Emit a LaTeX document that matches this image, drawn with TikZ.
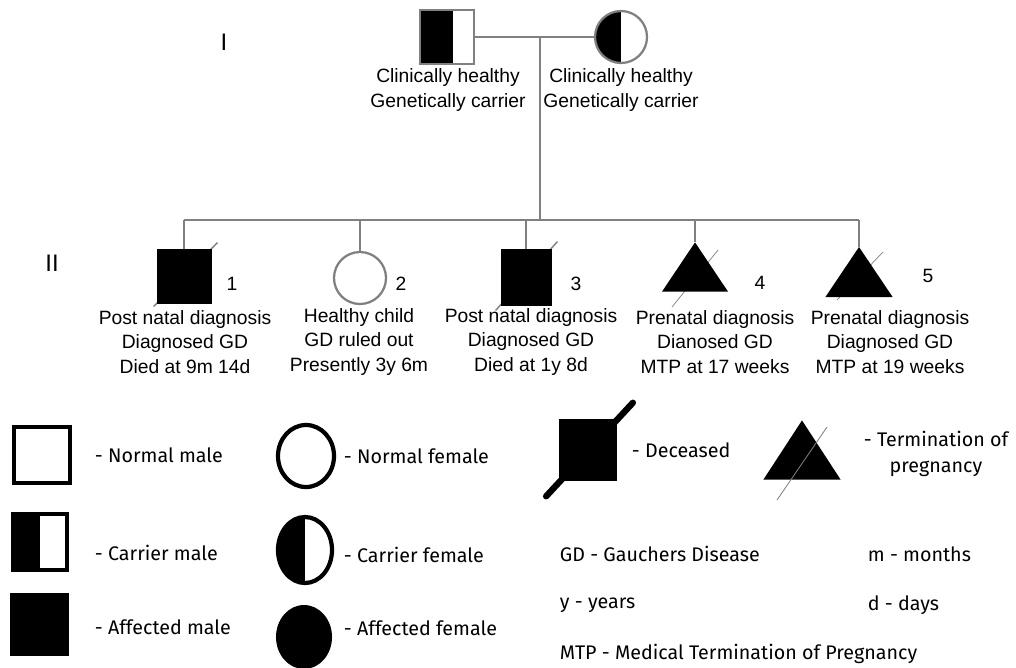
\documentclass[tikz,border=0pt]{standalone}
\usepackage{fontspec}
\setmainfont{Liberation Sans}
\newfontfamily\legfont{Fira Sans}
\usetikzlibrary{calc,shapes.geometric,backgrounds}

\begin{document}
\begin{tikzpicture}[x=0.025cm,y=-0.025cm,
  ped/.style={draw=gray,line width=2pt},
  msq/.style={rectangle,draw=gray,line width=1.6pt,inner sep=0pt,minimum width=1.35cm,minimum height=1.35cm},
  fcir/.style={circle,draw=gray,line width=1.6pt,inner sep=0pt,minimum size=1.3cm},
  half/.style={path picture={\fill[black] (path picture bounding box.south west) rectangle ($(path picture bounding box.north west)!#1!(path picture bounding box.north east)$);}},
  tri/.style={inner sep=0pt,path picture={\fill[black] (path picture bounding box.south west) -- (path picture bounding box.south east) -- (path picture bounding box.north) -- cycle;}},
  dead/.style={draw=gray,line width=1pt},
  txt/.style={align=center,font=\fontsize{13.7}{17.5}\selectfont},
  gen/.style={font=\fontsize{17}{20}\selectfont},
  leg/.style={anchor=west,font=\legfont\fontsize{14}{18}\selectfont},
  lsq/.style={rectangle,draw=black,line width=3pt,inner sep=0pt,minimum width=1.4cm,minimum height=1.4cm}]
\useasboundingbox (0,0) rectangle (1016,667);
\node[gen] (g1) at (224,42) {I};
\node[gen] (g2) at (52,263) {II};
\node[msq,half=0.62] (fa) at (447,37) {};
\node[fcir,half=0.5] (mo) at (621,37) {};
\node[txt] (fat) at (448,90) {Clinically healthy\\Genetically carrier};
\node[txt] (mot) at (621,90) {Clinically healthy\\Genetically carrier};
\draw[ped] (fa) -- (mo);
\coordinate (mid) at (540,37);
\coordinate (sib) at (540,220);
\draw[ped] (mid) -- (sib);
\node[msq,fill=black,draw=black,line width=0.6pt] (c1) at (184,276) {};
\node[fcir,fill=white] (c2) at (360,278) {};
\node[msq,fill=black,draw=black,line width=0.6pt,minimum width=1.25cm,minimum height=1.4cm] (c3) at (526,277) {};
\node[tri,minimum width=1.65cm,minimum height=1.23cm] (c4) at (695,267) {};
\node[tri,minimum width=1.68cm,minimum height=1.25cm] (c5) at (859,272) {};
\draw[ped] (c1.north |- sib) -- (c5.north |- sib);
\foreach \c in {c1,c2,c3,c4,c5}
  \draw[ped] (\c.north |- sib) -- (\c.north);
\begin{pgfonlayer}{background}
\draw[dead] ($(c1.south west)+(-3,3)$) -- ($(c1.north east)+(6,-6)$);
\draw[dead] ($(c3.south west)+(-5,5)$) -- ($(c3.north east)+(6,-7)$);
\draw[dead,line width=0.5pt] (672,307) -- (718,250);
\draw[dead,line width=0.5pt] (837,300) -- (883,252);
\end{pgfonlayer}
\node[txt] (n1) at (232,284) {1};
\node[txt] (n2) at (401,284) {2};
\node[txt] (n3) at (576,284) {3};
\node[txt] (n4) at (760,283) {4};
\node[txt] (n5) at (928,276) {5};
\node[txt] (t1) at (185,342) {Post natal diagnosis\\Diagnosed GD\\Died at 9m 14d};
\node[txt] (t2) at (359,342) {Healthy child\\GD ruled out\\Presently 3y 6m};
\node[txt] (t3) at (531,342) {Post natal diagnosis\\Diagnosed GD\\Died at 1y 8d};
\node[txt] (t4) at (715,342) {Prenatal diagnosis\\Dianosed GD\\MTP at 17 weeks};
\node[txt] (t5) at (890,342) {Prenatal diagnosis\\Diagnosed GD\\MTP at 19 weeks};
\node[lsq] (lnm) at (42,455) {};
\node[lsq,minimum width=1.35cm,half=0.5] (lcm) at (40,542) {};
\node[lsq,fill=black,line width=0.6pt,minimum width=1.45cm,minimum height=1.55cm] (lam) at (39,624) {};
\node[ellipse,draw=black,line width=3pt,minimum width=1.4cm,minimum height=1.55cm,inner sep=0pt] (lnf) at (306,456) {};
\node[ellipse,draw=black,line width=3pt,minimum width=1.35cm,minimum height=1.65cm,inner sep=0pt,half=0.5] (lcf) at (305,550) {};
\node[ellipse,fill=black,minimum width=1.4cm,minimum height=1.6cm,inner sep=0pt] (laf) at (304,637) {};
\node[leg] at (90,455) {- Normal male};
\node[leg] at (90,553) {- Carrier male};
\node[leg] at (90,627) {- Affected male};
\node[leg] at (339,456) {- Normal female};
\node[leg] at (339,555) {- Carrier female};
\node[leg] at (339,628) {- Affected female};
\node[rectangle,fill=black,inner sep=0pt,minimum width=1.43cm,minimum height=1.55cm] (lde) at (588,450) {};
\draw[line width=4.5pt,line cap=round] ($(lde.south west)+(-13,15)$) -- ($(lde.north east)+(16,-16)$);
\node[leg] (tde) at (627,450) {- Deceased};
\node[tri,minimum width=1.93cm,minimum height=1.48cm] (ltp) at (802,450) {};
\draw[dead,line width=0.6pt] (777,500) -- (827,427);
\node[leg,anchor=center,align=center] (ttp) at (936,454) {- Termination of\\pregnancy};
\node[leg] at (555,554) {GD - Gauchers Disease};
\node[leg] at (863,554) {m - months};
\node[leg] at (555,605) {y - years};
\node[leg] at (863,605) {d - days};
\node[leg] at (555,654) {MTP - Medical Termination of Pregnancy};
\end{tikzpicture}
\end{document}
